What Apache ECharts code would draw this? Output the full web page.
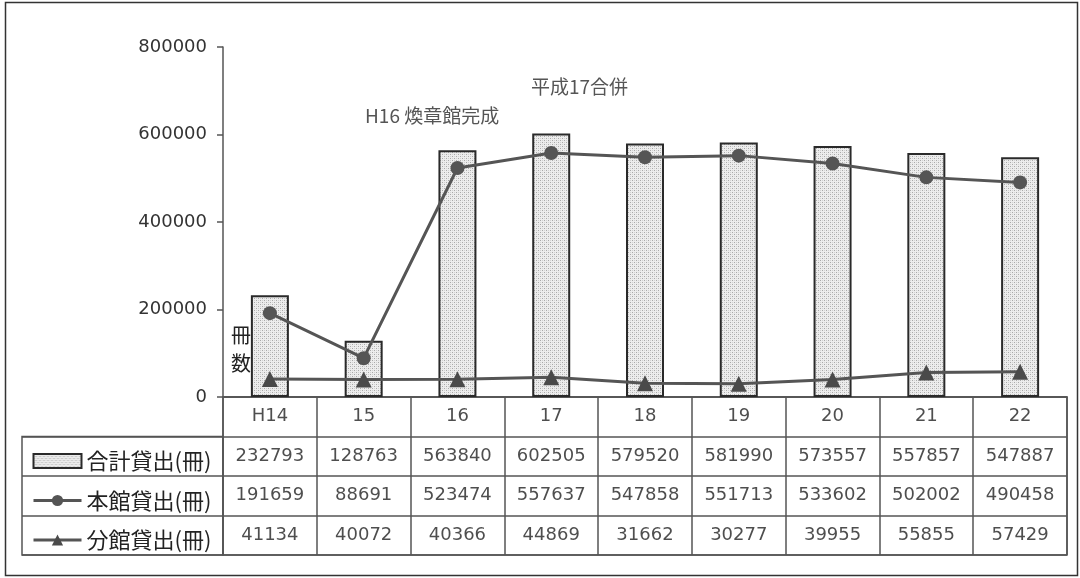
<!DOCTYPE html>
<html>
<head>
<meta charset="utf-8">
<script src="https://cdn.jsdelivr.net/npm/echarts@6/dist/echarts.min.js"></script>
<style>
  html, body { margin: 0; padding: 0; background: #fff; }
  #chart { width: 1080px; height: 578px; }
</style>
</head>
<body>
<div id="chart"></div>
<script>
// Fiscal years (Heisei) and loan counts
const categories = ['H14', '15', '16', '17', '18', '19', '20', '21', '22'];
const seriesNames = ['合計貸出(冊)', '本館貸出(冊)', '分館貸出(冊)'];
const totalLoans  = [232793, 128763, 563840, 602505, 579520, 581990, 573557, 557857, 547887];
const mainLoans   = [191659, 88691, 523474, 557637, 547858, 551713, 533602, 502002, 490458];
const branchLoans = [41134, 40072, 40366, 44869, 31662, 30277, 39955, 55855, 57429];
const yMax = 800000;
const yStep = 200000;
const yAxisName = '冊\n数';
const notes = ['平成17合併', 'H16 煥章館完成'];

// Fine dotted fill used for the total-loans bars
function dotPattern() {
  const c = document.createElement('canvas');
  c.width = 4; c.height = 4;
  const g = c.getContext('2d');
  g.fillStyle = '#ededed';
  g.fillRect(0, 0, 4, 4);
  g.fillStyle = '#a9a9a9';
  g.fillRect(0, 0, 1, 1);
  g.fillRect(2, 2, 1, 1);
  g.fillStyle = '#d2d2d2';
  g.fillRect(2, 0, 1, 1);
  g.fillRect(0, 2, 1, 1);
  return c;
}

const valueSets = [totalLoans, mainLoans, branchLoans];
const rowKeys = ['head'].concat(seriesNames);

// Cells of the data table below the chart
const cellData = [];
categories.forEach((cat, i) => {
  cellData.push([cat, 'head', cat]);
  valueSets.forEach((vals, r) => cellData.push([cat, seriesNames[r], String(vals[i])]));
});

const lineCol = '#555';
const textCol = '#222';
const latin = '"DejaVu Sans", sans-serif';
const cjk = '"Noto Sans CJK JP", sans-serif';

const chart = echarts.init(document.getElementById('chart'));
chart.setOption({
  animation: false,
  backgroundColor: '#fff',
  grid: [
    { left: 223, right: 13, top: 47, bottom: 181 },
    { left: 223, right: 13, top: 397, height: 158, show: true, borderColor: lineCol, borderWidth: 1.5, backgroundColor: 'transparent' },
    { left: 22, width: 201, top: 436.5, height: 118.5, show: true, borderColor: lineCol, borderWidth: 1.5, backgroundColor: 'transparent' }
  ],
  legend: {
    orient: 'vertical',
    left: 27,
    top: 445,
    itemWidth: 48,
    itemHeight: 14,
    itemGap: 17.5,
    lineStyle: { width: 3 },
    textStyle: { fontSize: 22, lineHeight: 22, color: textCol, fontFamily: cjk },
    data: [{ name: seriesNames[0], icon: 'rect' }, seriesNames[1], seriesNames[2]]
  },
  xAxis: [
    {
      gridIndex: 0, type: 'category', data: categories,
      axisLine: { show: true, lineStyle: { color: lineCol, width: 1.5 } },
      axisTick: { show: false }, axisLabel: { show: false }
    },
    {
      gridIndex: 1, type: 'category', data: categories,
      axisLine: { show: false }, axisTick: { show: false }, axisLabel: { show: false },
      splitLine: { show: true, lineStyle: { color: lineCol, width: 1.5 } }
    },
    { gridIndex: 2, type: 'value', show: false }
  ],
  yAxis: [
    {
      gridIndex: 0, type: 'value', min: 0, max: yMax, interval: yStep,
      axisLine: { show: true, lineStyle: { color: lineCol, width: 1.5 } },
      axisTick: { show: true, length: 6, lineStyle: { color: lineCol, width: 1.5 } },
      axisLabel: { margin: 16, fontSize: 18, color: '#333', fontFamily: latin, formatter: v => String(v) },
      splitLine: { show: false }
    },
    {
      gridIndex: 1, type: 'category', data: rowKeys, inverse: true,
      axisLine: { show: false }, axisTick: { show: false }, axisLabel: { show: false },
      splitLine: { show: true, lineStyle: { color: lineCol, width: 1.5 } }
    },
    {
      gridIndex: 2, type: 'category', data: seriesNames, inverse: true,
      axisLine: { show: false }, axisTick: { show: false }, axisLabel: { show: false },
      splitLine: { show: true, lineStyle: { color: lineCol, width: 1.5 } }
    }
  ],
  series: [
    {
      name: seriesNames[0], type: 'bar', xAxisIndex: 0, yAxisIndex: 0,
      data: totalLoans, barWidth: 38,
      itemStyle: { color: { image: dotPattern(), repeat: 'repeat' }, borderColor: '#2a2a2a', borderWidth: 2 }
    },
    {
      name: seriesNames[1], type: 'line', xAxisIndex: 0, yAxisIndex: 0,
      data: mainLoans, symbol: 'circle', symbolSize: 14,
      lineStyle: { color: lineCol, width: 3 },
      itemStyle: { color: lineCol }
    },
    {
      name: seriesNames[2], type: 'line', xAxisIndex: 0, yAxisIndex: 0,
      data: branchLoans, symbol: 'triangle', symbolSize: 16,
      lineStyle: { color: lineCol, width: 3 },
      itemStyle: { color: '#4a4a4a' }
    },
    {
      name: 'table', type: 'scatter', xAxisIndex: 1, yAxisIndex: 1,
      data: cellData, symbolSize: 1, silent: true,
      itemStyle: { color: 'rgba(0,0,0,0)' },
      label: {
        show: true, position: 'inside',
        formatter: p => p.value[2],
        fontSize: 18, color: textCol, fontFamily: latin
      }
    }
  ],
  graphic: [
    {
      type: 'rect', shape: { x: 5.5, y: 2.5, width: 1072, height: 573 },
      style: { fill: 'none', stroke: '#333', lineWidth: 1.5 }, silent: true, z: -1
    },
    {
      type: 'text', left: 231, top: 321,
      style: { text: yAxisName, lineHeight: 28, fill: textCol, font: '20px ' + cjk }
    },
    {
      type: 'text', left: 531, top: 77,
      style: { text: notes[0], fill: '#555', font: '19px ' + cjk }
    },
    {
      type: 'text', left: 365, top: 106,
      style: { text: notes[1], fill: '#555', font: '19px ' + cjk }
    }
  ]
});
</script>
</body>
</html>
